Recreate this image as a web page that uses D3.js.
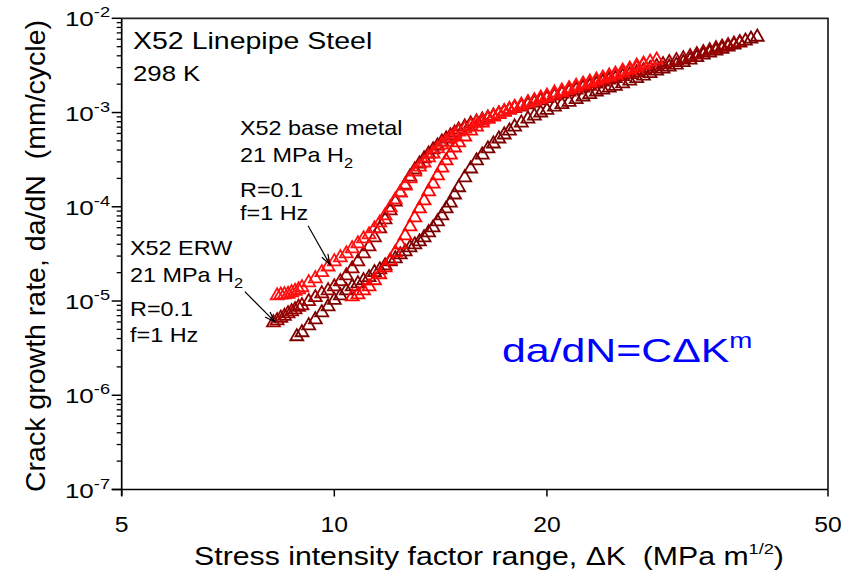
<!DOCTYPE html>
<html>
<head>
<meta charset="utf-8">
<script src="https://d3js.org/d3.v7.min.js"></script>
<style>
  body { margin: 0; background: #fff; }
  text { font-family: "Liberation Sans", Arial, sans-serif; fill: #000; white-space: pre; }
</style>
</head>
<body>
<div id="chart"></div>
<script>
// values: stress intensity range dK (MPa m^1/2), da/dN (mm/cycle)
// X52 base metal, test 1
var bm1K = [8.3,8.4,8.5,8.6,8.7,8.8,8.9,9.0,9.2,9.4,9.6,9.8,10.0,10.2,10.4,10.6,10.8,11.0,11.2,11.4,11.6,11.8,12.0,12.2,12.4,12.6,12.8,13.0,13.2,13.4,13.6,13.8,14.0,14.2,14.4,14.6,14.8,15.0,15.3,15.6,15.9,16.2,16.5,16.8,17.1,17.4,17.7,18.0,18.4,18.8,19.2,19.6,20.0,20.5,21.0,21.5,22.0,22.5,23.0,23.5,24.0,24.5,25.0,25.6,26.2,26.8,27.4,28.0,28.6];
var bm1Rate = [1.14e-5,1.16e-5,1.17e-5,1.18e-5,1.23e-5,1.27e-5,1.32e-5,1.39e-5,1.57e-5,1.73e-5,2.01e-5,2.31e-5,2.62e-5,2.89e-5,3.18e-5,3.60e-5,4.06e-5,4.59e-5,5.06e-5,5.85e-5,6.79e-5,8.04e-5,9.78e-5,1.19e-4,1.41e-4,1.67e-4,1.99e-4,2.35e-4,2.65e-4,2.93e-4,3.32e-4,3.65e-4,4.13e-4,4.55e-4,4.89e-4,5.40e-4,5.81e-4,6.25e-4,6.72e-4,7.23e-4,7.78e-4,8.17e-4,8.58e-4,9.01e-4,9.57e-4,1.01e-3,1.07e-3,1.12e-3,1.18e-3,1.27e-3,1.33e-3,1.43e-3,1.50e-3,1.62e-3,1.70e-3,1.80e-3,1.91e-3,2.01e-3,2.11e-3,2.22e-3,2.33e-3,2.45e-3,2.57e-3,2.76e-3,2.90e-3,3.12e-3,3.28e-3,3.44e-3,3.61e-3];

// X52 base metal, test 2
var bm2K = [10.6,10.8,11.0,11.2,11.4,11.6,11.8,12.0,12.2,12.4,12.6,12.8,13.0,13.2,13.4,13.6,13.8,14.0,14.2,14.4,14.6,14.8,15.0,15.3,15.6,15.9,16.2,16.5,16.8,17.1,17.4,17.7,18.0,18.4,18.8,19.2,19.6,20.0,20.5,21.0,21.5,22.0,22.5,23.0,23.5,24.0,24.5,25.0,25.6,26.2,26.8,27.4];
var bm2Rate = [1.11e-5,1.17e-5,1.29e-5,1.42e-5,1.65e-5,1.91e-5,2.26e-5,2.68e-5,3.26e-5,3.96e-5,4.94e-5,6.15e-5,7.67e-5,9.54e-5,1.16e-4,1.45e-4,1.75e-4,2.14e-4,2.59e-4,3.08e-4,3.56e-4,4.23e-4,4.78e-4,5.53e-4,6.40e-4,7.05e-4,7.78e-4,8.58e-4,9.12e-4,9.69e-4,1.02e-3,1.08e-3,1.14e-3,1.20e-3,1.27e-3,1.33e-3,1.39e-3,1.47e-3,1.54e-3,1.64e-3,1.74e-3,1.84e-3,1.96e-3,2.06e-3,2.17e-3,2.27e-3,2.39e-3,2.51e-3,2.64e-3,2.80e-3,2.97e-3,3.20e-3];

// X52 ERW, test 1
var erw1K = [8.2,8.3,8.4,8.5,8.6,8.7,8.8,8.9,9.0,9.2,9.4,9.6,9.8,10.0,10.2,10.4,10.6,10.8,11.0,11.2,11.4,11.6,11.8,12.0,12.2,12.4,12.6,12.8,13.0,13.2,13.4,13.6,13.8,14.0,14.2,14.4,14.6,14.8,15.0,15.3,15.6,15.9,16.2,16.5,16.8,17.1,17.4,17.7,18.0,18.4,18.8,19.2,19.6,20.0,20.5,21.0,21.5,22.0,22.5,23.0,23.5,24.0,24.5,25.0,25.6,26.2,26.8,27.4,28.0,28.6,29.2,29.8,30.5,31.2,31.9,32.6,33.3,34.0,34.7,35.4,36.1,36.8,37.5];
var erw1Rate = [5.90e-6,6.20e-6,6.59e-6,6.92e-6,7.36e-6,7.72e-6,8.11e-6,8.63e-6,8.95e-6,9.90e-6,1.09e-5,1.20e-5,1.29e-5,1.42e-5,1.61e-5,1.86e-5,2.20e-5,2.62e-5,3.18e-5,3.77e-5,4.71e-5,5.85e-5,7.30e-5,9.09e-5,1.13e-4,1.41e-4,1.71e-4,2.08e-4,2.47e-4,2.86e-4,3.24e-4,3.65e-4,4.03e-4,4.44e-4,4.89e-4,5.27e-4,5.67e-4,6.10e-4,6.56e-4,7.05e-4,7.59e-4,7.97e-4,8.37e-4,8.79e-4,9.23e-4,9.69e-4,1.02e-3,1.07e-3,1.11e-3,1.15e-3,1.21e-3,1.27e-3,1.34e-3,1.41e-3,1.50e-3,1.58e-3,1.66e-3,1.74e-3,1.83e-3,1.91e-3,2.01e-3,2.11e-3,2.22e-3,2.30e-3,2.42e-3,2.54e-3,2.66e-3,2.80e-3,2.94e-3,3.08e-3,3.24e-3,3.40e-3,3.57e-3,3.74e-3,3.93e-3,4.13e-3,4.34e-3,4.55e-3,4.78e-3,4.96e-3,5.15e-3,5.34e-3,5.54e-3];

// X52 ERW, test 2
var erw2K = [8.85,9.0,9.2,9.4,9.6,9.8,10.0,10.2,10.4,10.6,10.8,11.0,11.2,11.4,11.6,11.8,12.0,12.2,12.4,12.6,12.8,13.0,13.2,13.4,13.6,13.8,14.0,14.2,14.4,14.6,14.8,15.0,15.3,15.6,15.9,16.2,16.5,16.8,17.1,17.4,17.7,18.0,18.4,18.8,19.2,19.6,20.0,20.5,21.0,21.5,22.0,22.5,23.0,23.5,24.0,24.5,25.0,25.6,26.2,26.8,27.4,28.0,28.6,29.2,29.8,30.5,31.2,31.9,32.6,33.3,34.0,34.7,35.4,36.1,36.8,37.5,38.2,38.9,39.7];
var erw2Rate = [4.20e-6,4.63e-6,5.49e-6,6.35e-6,7.54e-6,8.73e-6,1.02e-5,1.14e-5,1.29e-5,1.42e-5,1.53e-5,1.65e-5,1.78e-5,2.01e-5,2.15e-5,2.37e-5,2.62e-5,2.82e-5,3.10e-5,3.34e-5,3.69e-5,3.96e-5,4.26e-5,4.71e-5,5.32e-5,6.00e-5,6.95e-5,8.04e-5,9.54e-5,1.10e-4,1.34e-4,1.60e-4,2.04e-4,2.53e-4,3.08e-4,3.56e-4,4.13e-4,4.66e-4,5.27e-4,5.81e-4,6.40e-4,7.05e-4,7.78e-4,8.58e-4,9.23e-4,9.94e-4,1.06e-3,1.15e-3,1.22e-3,1.29e-3,1.38e-3,1.47e-3,1.56e-3,1.66e-3,1.74e-3,1.83e-3,1.91e-3,2.03e-3,2.17e-3,2.30e-3,2.45e-3,2.60e-3,2.76e-3,2.90e-3,3.05e-3,3.20e-3,3.40e-3,3.61e-3,3.84e-3,4.08e-3,4.29e-3,4.50e-3,4.72e-3,4.96e-3,5.21e-3,5.47e-3,5.75e-3,6.03e-3,6.33e-3];

var xTicks = [5, 10, 20, 50];
var yTicks = [1e-7, 1e-6, 1e-5, 1e-4, 1e-3, 1e-2];
var yExponents = ["-7", "-6", "-5", "-4", "-3", "-2"];

// arrows: [tail, tip] in data units
var arrowBase = [[9.18, 6.3e-5], [9.86, 2.43e-5]];
var arrowErw = [[7.47, 1.26e-5], [8.24, 6.0e-6]];

var width = 841, height = 572;
var svg = d3.select("#chart").append("svg")
    .attr("width", width).attr("height", height);

var x = d3.scaleLog().domain([5, 50]).range([121.7, 828]);
var y = d3.scaleLog().domain([1e-7, 1e-2]).range([489.5, 18.3]);

// minor y ticks
var yMinor = [];
yTicks.slice(0, -1).forEach(function(d) {
  for (var i = 2; i < 10; i++) yMinor.push(d * i);
});

var axisColor = "#000";

// frame (top and right)
svg.append("path")
  .attr("d", "M" + x(5) + "," + y(1e-2) + "H" + x(50) + "V" + y(1e-7))
  .attr("fill", "none").attr("stroke", "#222").attr("stroke-width", 1.7);

// y axis
var yAx = svg.append("g").attr("transform", "translate(" + x(5) + ",0)");
yAx.append("line").attr("y1", y(1e-2)).attr("y2", y(1e-7) + 6)
  .attr("stroke", axisColor).attr("stroke-width", 1.7);
yAx.selectAll(".major").data(yTicks).enter().append("line")
  .attr("x1", -10).attr("x2", 0).attr("y1", d => y(d)).attr("y2", d => y(d))
  .attr("stroke", axisColor).attr("stroke-width", 1.5);
yAx.selectAll(".minor").data(yMinor).enter().append("line")
  .attr("x1", -5).attr("x2", 0).attr("y1", d => y(d)).attr("y2", d => y(d))
  .attr("stroke", axisColor).attr("stroke-width", 1.3);

// x axis
var xAx = svg.append("g").attr("transform", "translate(0," + y(1e-7) + ")");
xAx.append("line").attr("x1", x(5) - 10).attr("x2", x(50))
  .attr("stroke", axisColor).attr("stroke-width", 1.7);
xAx.selectAll(".major").data(xTicks).enter().append("line")
  .attr("x1", d => x(d)).attr("x2", d => x(d)).attr("y1", 0).attr("y2", 7)
  .attr("stroke", axisColor).attr("stroke-width", 1.5);

// stretched text helper (the original lettering is wide)
function stext(px, py, sx, size, anchor) {
  return svg.append("g")
    .attr("transform", "translate(" + px + "," + py + ") scale(" + sx + ",1)")
    .append("text")
    .attr("font-size", size)
    .attr("text-anchor", anchor || "start");
}

// x tick labels
xTicks.forEach(function(d) {
  stext(x(d), 531.5, 1.15, 21.5, "middle").text(d);
});

// y tick labels 10^n
yTicks.forEach(function(d, i) {
  var t = stext(110, y(d) + 8, 1.3, 20, "end");
  t.append("tspan").text("10");
  t.append("tspan").attr("font-size", 14).attr("dy", -9).text(yExponents[i]);
});

// axis titles
var xl = stext(489, 565, 1.21, 25, "middle");
xl.append("tspan").text("Stress intensity factor range, \u0394K  (MPa m");
xl.append("tspan").attr("font-size", 15).attr("dy", -11).text("1/2");
xl.append("tspan").attr("dy", 11).text(")");

svg.append("text")
  .attr("transform", "translate(45,256) rotate(-90)")
  .attr("text-anchor", "middle")
  .attr("font-size", 28.5)
  .text("Crack growth rate, da/dN  (mm/cycle)");

// data
var series = [
  {k: erw2K, r: erw2Rate, color: "#7d0000"},
  {k: erw1K, r: erw1Rate, color: "#960000"},
  {k: bm2K, r: bm2Rate, color: "#ff0000"},
  {k: bm1K, r: bm1Rate, color: "#ff1010"}
];
var tri = d3.symbol().type(d3.symbolTriangle).size(72);
series.forEach(function(s) {
  svg.append("g").selectAll("path")
    .data(d3.zip(s.k, s.r))
    .enter().append("path")
    .attr("d", tri)
    .attr("transform", d => "translate(" + x(d[0]) + "," + y(d[1]) + ")")
    .attr("fill", "none")
    .attr("stroke", s.color)
    .attr("stroke-width", 1.8);
});

// annotations
stext(133, 48.5, 1.24, 23).text("X52 Linepipe Steel");
stext(133, 81, 1.12, 23).text("298 K");

function h2(px, py) {
  var t = stext(px, py, 1.17, 20);
  t.append("tspan").text("21 MPa H");
  t.append("tspan").attr("font-size", 14).attr("dy", 6).text("2");
}
stext(240, 135, 1.17, 20).text("X52 base metal");
h2(240, 161.5);
stext(240, 196.5, 1.17, 20).text("R=0.1");
stext(240, 220, 1.17, 20).text("f=1 Hz");

stext(130, 255, 1.17, 20).text("X52 ERW");
h2(130, 281.5);
stext(130, 316, 1.17, 20).text("R=0.1");
stext(130, 341.5, 1.17, 20).text("f=1 Hz");

function arrow(a) {
  var x1 = x(a[0][0]), y1 = y(a[0][1]), x2 = x(a[1][0]), y2 = y(a[1][1]);
  var ang = Math.atan2(y2 - y1, x2 - x1), len = 11, spread = 0.32;
  svg.append("line").attr("x1", x1).attr("y1", y1).attr("x2", x2).attr("y2", y2)
    .attr("stroke", "#000").attr("stroke-width", 1.2);
  svg.append("path")
    .attr("d", "M" + (x2 - len * Math.cos(ang - spread)) + "," + (y2 - len * Math.sin(ang - spread)) +
               "L" + x2 + "," + y2 +
               "L" + (x2 - len * Math.cos(ang + spread)) + "," + (y2 - len * Math.sin(ang + spread)))
    .attr("fill", "none").attr("stroke", "#000").attr("stroke-width", 1.2);
}
arrow(arrowBase);
arrow(arrowErw);

// Paris law label
var f = stext(502, 361.5, 1.26, 34);
f.style("fill", "#0000ff");
f.append("tspan").text("da/dN=C\u0394K");
f.append("tspan").attr("font-size", 22).attr("dy", -14).text("m");
</script>
</body>
</html>
